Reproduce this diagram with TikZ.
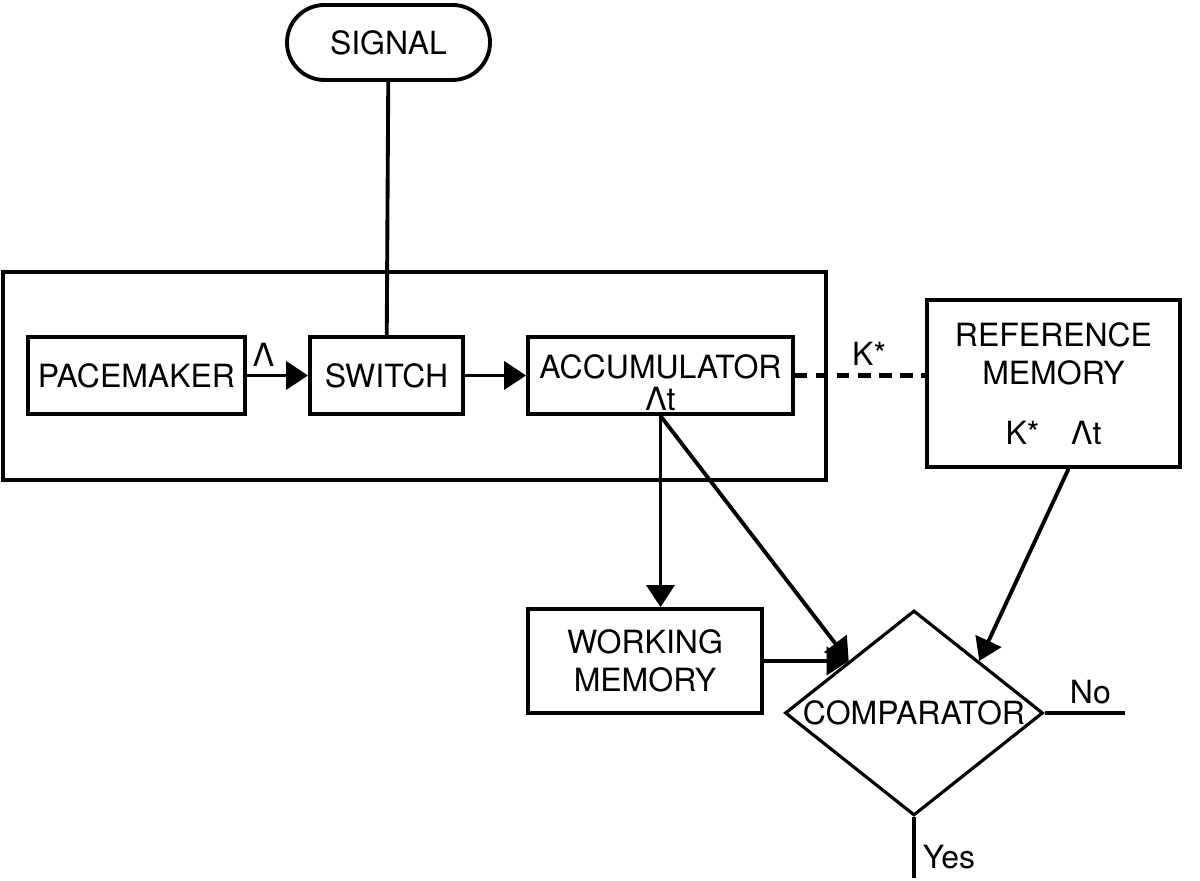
\documentclass[tikz,border=0pt]{standalone}
\usepackage{fontspec}
\setmainfont{TeX Gyre Heros}
\usetikzlibrary{arrows.meta, shapes.geometric}

\begin{document}
\begin{tikzpicture}
	\tikzset{block/.style={draw, rectangle, line width=1.1pt, inner sep=0pt, font=\fontsize{9.1}{11}\selectfont, align=center}}
	\tikzset{edge/.style={-{Triangle[length=0.22cm, width=0.28cm]}, line width=1.1pt}}
	\tikzset{wire/.style={line width=1.1pt}}
	\tikzset{lbl/.style={font=\fontsize{9.1}{11}\selectfont, inner sep=2pt}}
	
	\useasboundingbox (0,0) rectangle (12,8.81);
	
	\node(signal) at (3.885,8.385) [block, rounded corners=0.375cm, minimum width=2.03cm, minimum height=0.75cm] {SIGNAL};
	\node(clock) at (4.145,5.05) [block, minimum width=8.23cm, minimum height=2.08cm] {};
	
	\node(pacemaker) at (1.365,5.055) [block, minimum width=2.17cm, minimum height=0.77cm] {PACEMAKER};
	\node(switch) at (3.865,5.055) [block, minimum width=1.53cm, minimum height=0.77cm] {SWITCH};
	\node(acc) at (6.605,5.055) [block, minimum width=2.65cm, minimum height=0.77cm] {\rule{0pt}{11pt}ACCUMULATOR\\[-2pt]Λt};
	\node(ref) at (10.535,4.975) [block, minimum width=2.53cm, minimum height=1.67cm] {REFERENCE\\MEMORY\\[6pt]K*\quad Λt\hspace{0.3cm}};
	
	\node(wm) at (6.45,2.2) [block, minimum width=2.34cm, minimum height=1.04cm] {WORKING\\MEMORY\hspace{0.1cm}};
	\node(comp) at (9.14,1.68) [draw, diamond, line width=0.9pt, inner sep=0pt, minimum width=2.58cm, minimum height=2.05cm, label={[lbl]center:COMPARATOR}] {};
	\coordinate(no) at (11.25,1.68);
	\coordinate(yes) at (9.14,0.03);
	
	\draw[wire](signal) -- (switch);
	\draw[edge](pacemaker) -- node[lbl, above, pos=0.27]{Λ} (switch);
	\draw[edge](switch) -- (acc);
	\draw[wire, line width=1.4pt, dash pattern=on 3.5pt off 2.5pt](acc.east) -- node[lbl, above, pos=0.57]{K*} (acc.east -| ref.west);
	
	\draw[edge](acc.south) -- (acc.south |- wm.north);
	\draw[edge](acc.south) -- (comp.north west);
	\draw[edge](wm.east) -- (wm.east -| comp.north west);
	\draw[edge]([xshift=0.15cm]ref.south) -- (comp.north east);
	
	\draw[wire](comp.east) -- node[lbl, above, pos=0.57]{No} (no);
	\draw[wire](comp.south) -- node[lbl, right, pos=0.65]{Yes} (yes);
	
\end{tikzpicture}
\end{document}
